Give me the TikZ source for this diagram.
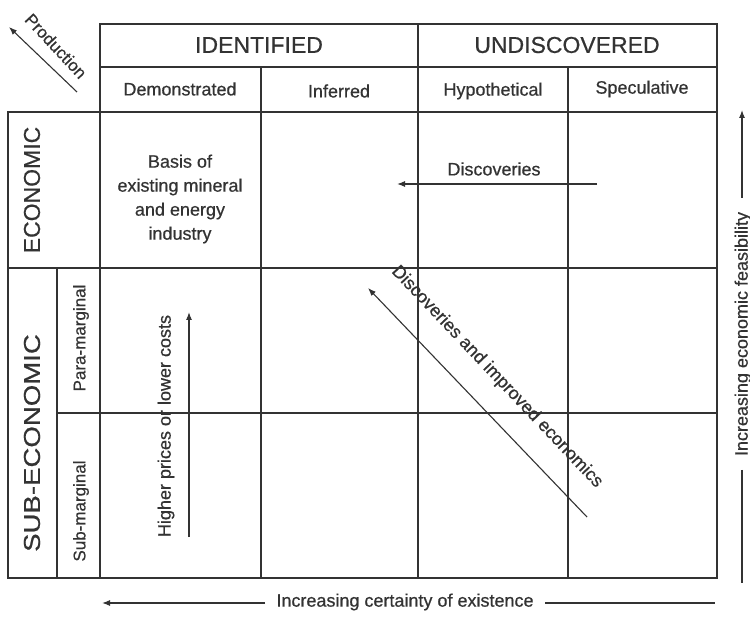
\documentclass[tikz,border=0pt]{standalone}
\usepackage{fontspec}
\setmainfont{Liberation Sans}[FakeBold=0.6]
\usetikzlibrary{arrows.meta}
\definecolor{ink}{HTML}{333333}
\begin{document}
\begin{tikzpicture}[x=1pt,y=-1pt,
  gridline/.style={draw=ink,line width=1.7pt},
  frameline/.style={draw=ink,line width=2.3pt,line join=miter},
  big/.style={text=ink,font=\fontsize{23}{27}\selectfont,inner sep=0pt},
  mid/.style={text=ink,font=\fontsize{18}{24}\selectfont,inner sep=0pt},
  small/.style={text=ink,font=\fontsize{17}{22}\selectfont,inner sep=0pt},
  arr/.style={draw=ink,line width=1.1pt,-{Latex[length=8pt,width=6pt]}},
  plainline/.style={draw=ink,line width=1.1pt}]
\useasboundingbox[fill=white] (0,0) rectangle (750,617);
% grid
\draw[gridline] (100,67) -- (717,67);
\draw[gridline] (8,112) -- (717,112);
\draw[gridline] (8,268) -- (717,268);
\draw[gridline] (57,413) -- (717,413);
\draw[gridline] (100,24) -- (100,578);
\draw[gridline] (418,24) -- (418,578);
\draw[gridline] (261,67) -- (261,578);
\draw[gridline] (568,67) -- (568,578);
\draw[gridline] (57,268) -- (57,578);
\draw[frameline] (8,112) -- (100,112) -- (100,24) -- (717,24) -- (717,578) -- (8,578) -- cycle;
% headers
\node[big] (ident) at (259,45) {IDENTIFIED};
\node[big] (undis) at (567,45) {UNDISCOVERED};
\node[mid] (dem) at (180,89) {Demonstrated};
\node[mid] (inf) at (339,91) {Inferred};
\node[mid] (hyp) at (493,91) {Hypothetical};
\node[mid] (spec) at (642,89) {Speculative};
% row labels
\node[big,rotate=90] (econ) at (32,190) {ECONOMIC};
\node[big,rotate=90] (subecon) at (32,443) {\scalebox{1.2}[1]{SUB-ECONOMIC}};
\node[small,rotate=90] (para) at (81,338) {Para-marginal};
\node[small,rotate=90] (subm) at (81,511) {Sub-marginal};
% cell contents
\node[mid,align=center] (basis) at (180,199) {Basis of\\existing mineral\\and energy\\industry};
\node[mid] (disc) at (494,169) {Discoveries};
\coordinate (d1) at (597,184);
\coordinate (d2) at (397,184);
\draw[arr] (d1) -- (d2);
\node[mid,rotate=90] (higher) at (166,426) {Higher prices or lower costs};
\coordinate (h1) at (189,537);
\coordinate (h2) at (189,312);
\draw[arr] (h1) -- (h2);
\coordinate (e1) at (587,517);
\coordinate (e2) at (368,288);
\draw[arr] (e1) -- (e2);
\node[mid,rotate=-46.5] (dimp) at (497,377) {Discoveries and improved economics};
% production
\node[small,rotate=-47] (prod) at (56,46) {Production};
\coordinate (p1) at (77,92);
\coordinate (p2) at (9,27);
\draw[arr] (p1) -- (p2);
% right axis
\node[mid,rotate=90] (feas) at (743,334) {Increasing economic feasibility};
\coordinate (r1) at (742,198);
\coordinate (r2) at (742,110);
\coordinate (r3) at (742,470);
\coordinate (r4) at (742,583);
\draw[arr] (r1) -- (r2);
\draw[plainline] (r3) -- (r4);
% bottom axis
\node[mid] (cert) at (405,602) {Increasing certainty of existence};
\coordinate (b1) at (265,603);
\coordinate (b2) at (102,603);
\coordinate (b3) at (545,603);
\coordinate (b4) at (715,603);
\draw[arr] (b1) -- (b2);
\draw[plainline] (b3) -- (b4);
\end{tikzpicture}
\end{document}
